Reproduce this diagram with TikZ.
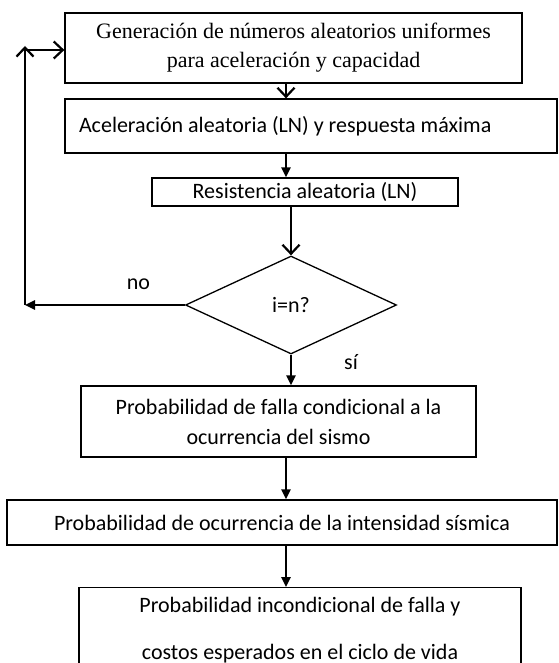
\documentclass[tikz,border=0pt]{standalone}
\usepackage{fontspec}
\setmainfont{Carlito}
\newfontfamily\timesfont{Liberation Serif}
\usetikzlibrary{shapes,arrows,arrows.meta,positioning,calc}
\tikzstyle{block} = [draw, rectangle, line width=1.3pt, inner sep=0pt,
    align=center, font=\fontsize{22}{30}\selectfont]
\tikzstyle{decision} = [draw, diamond, line width=1.3pt, inner sep=0pt,
    minimum width=211pt, minimum height=98pt, aspect=2.15,
    font=\fontsize{22}{26}\selectfont]
\tikzstyle{lbl} = [font=\fontsize{22}{26}\selectfont, inner sep=0pt]
\tikzstyle{connector} = [-{Triangle[length=10pt,width=9pt]}, line width=2.4pt]
\tikzstyle{openconnector} = [-{Straight Barb[length=9pt,width=17pt,line width=2.2pt]}, line width=2.4pt]

\begin{document}
\begin{tikzpicture}[x=1pt, y=-1pt]
		\useasboundingbox (0,0) rectangle (558,663);
		\clip (0,0) rectangle (558,663);

		\node[block, minimum width=457pt, minimum height=70pt,
			font=\timesfont\fontsize{22}{29}\selectfont] (gen) at (293.5,48)
			{Generación de números aleatorios uniformes\\para aceleración y capacidad};
		\node[block, minimum width=492pt, minimum height=54pt, text width=464pt,
			inner xsep=14pt, align=flush left] (acel) at (311,126)
			{Aceleración aleatoria (LN) y respuesta máxima};
		\node[block, minimum width=306pt, minimum height=28pt] (resist) at (305,192)
			{Resistencia aleatoria (LN)};
		\node[decision] (test) at (291,305) {i=n?};
		\node[block, minimum width=395pt, minimum height=71pt] (pcond) at (278.5,421.5)
			{Probabilidad de falla condicional a la\\ocurrencia del sismo};
		\node[block, minimum width=550pt, minimum height=45pt] (pocur) at (282,522.5)
			{Probabilidad de ocurrencia de la intensidad sísmica};
		\node[block, minimum width=442pt, inner ysep=10pt, anchor=north,
			font=\fontsize{22}{47}\selectfont] (pincond) at (300,587)
			{Probabilidad incondicional de falla y\\costos esperados en el ciclo de vida};

		% loop back corners and arrow axis
		\coordinate (axis) at (286,0);
		\coordinate (low corner) at (25,305);
		\coordinate (up corner) at (25,46);
		\coordinate (up start) at (25,50);

		\draw[openconnector] (gen.south -| axis) to (acel.north -| axis);
		\draw[connector] (acel.south -| axis) to (resist.north -| axis);
		\draw[openconnector] (resist.south -| test) to (test.north);
		\draw[connector] (test.south) to node[lbl, pos=0.25, right=52pt] {sí}
			(test.south |- pcond.north);
		\draw[connector] (pcond.south -| axis) to (pocur.north -| axis);
		\draw[connector] (pocur.south -| axis) to (pincond.north -| axis);

		\draw[connector] (test.west) to node[lbl, pos=0.29, above=14pt] {no} (low corner);
		\draw[openconnector] (low corner) to (up corner);
		\draw[openconnector] (up start) to (up start -| gen.west);
	\end{tikzpicture}
\end{document}
